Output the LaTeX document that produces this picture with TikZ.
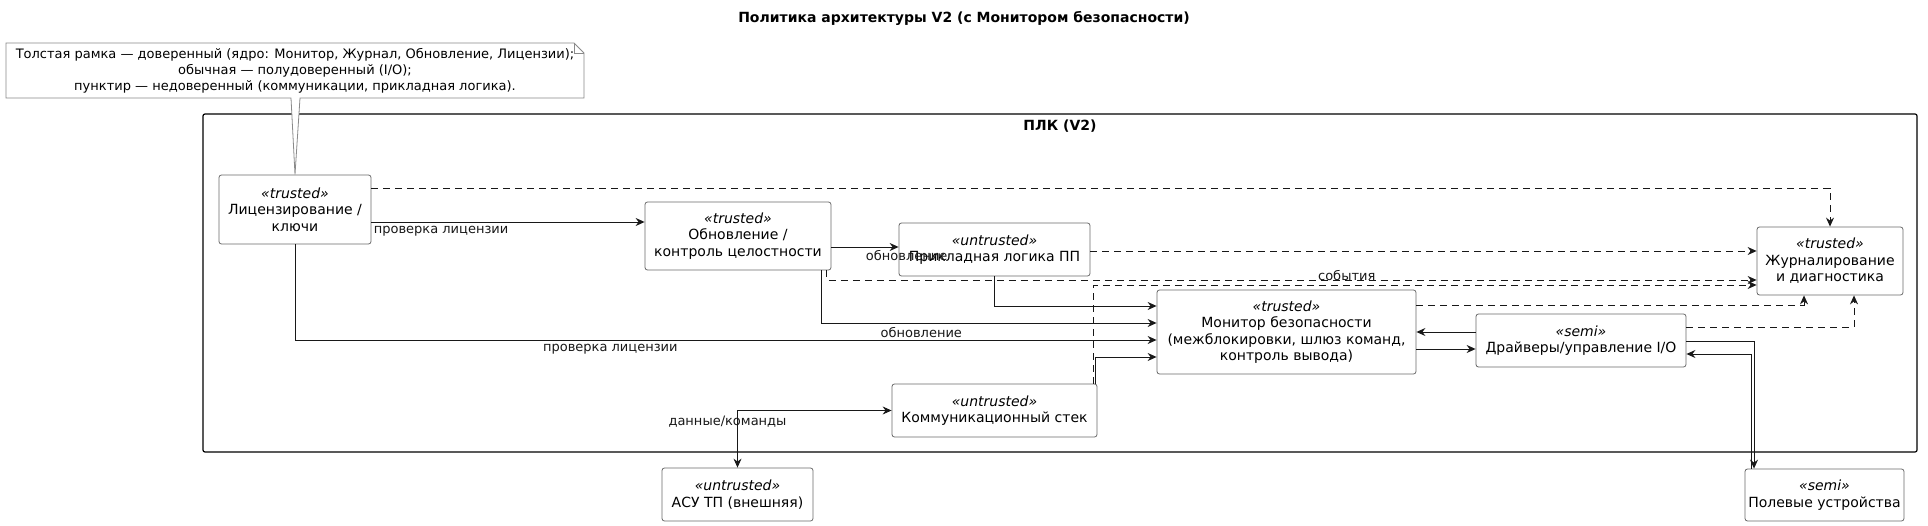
\documentclass[tikz,border=0pt]{standalone}
\usepackage{fontspec}
\setmainfont{DejaVu Sans}
\usepackage{tikz}
\usetikzlibrary{arrows.meta}

\definecolor{boxline}{HTML}{6A6A6A}
\definecolor{noteline}{HTML}{8A8A8A}
\definecolor{wire}{HTML}{181818}

\newcommand{\strtype}[1]{\textit{«#1»}\\}

\tikzset{
    uml/.tip={Stealth[length=9pt,width=8pt,inset=3pt]},
    comp/.style={draw=boxline, line width=0.8pt, rounded corners=2.5pt, fill=white,
        align=center, inner sep=0pt, font=\fontsize{14}{16.5}\selectfont},
    flow/.style={draw=wire, line width=0.9pt, -uml},
    dep/.style={flow, dash pattern=on 7pt off 5pt},
    lbl/.style={font=\fontsize{13}{15}\selectfont, inner sep=0pt, text=wire}
}

\begin{document}
\begin{tikzpicture}[x=1pt, y=-1pt]
    \path[fill=white, use as bounding box] (0,0) rectangle (1928,526);

    % Title
    \node[font=\bfseries\fontsize{14}{16}\selectfont] (title) at (964,18)
        {Политика архитектуры V2 (с Монитором безопасности)};

    % PLC frame
    \draw[line width=1.2pt, rounded corners=2pt] (203,114) rectangle (1917,452);
    \node[font=\bfseries\fontsize{14}{16}\selectfont] (plc) at (1060,126) {ПЛК (V2)};

    % Components inside the PLC
    \node[comp, minimum width=152, minimum height=69] (lic) at (295,209.5)
        {\strtype{trusted}Лицензирование /\\ключи};
    \node[comp, minimum width=186, minimum height=68] (upd) at (738,236)
        {\strtype{trusted}Обновление /\\контроль целостности};
    \node[comp, minimum width=191, minimum height=53] (app) at (994.5,249.5)
        {\strtype{untrusted}Прикладная логика ПП};
    \node[comp, minimum width=146, minimum height=68] (log) at (1830,261)
        {\strtype{trusted}Журналирование\\и диагностика};
    \node[comp, minimum width=259, minimum height=84] (mon) at (1286.5,332)
        {\strtype{trusted}Монитор безопасности\\(межблокировки, шлюз команд,\\контроль вывода)};
    \node[comp, minimum width=210, minimum height=53] (drv) at (1581,340.5)
        {\strtype{semi}Драйверы/управление I/O};
    \node[comp, minimum width=205, minimum height=53] (comm) at (994.5,410.5)
        {\strtype{untrusted}Коммуникационный стек};

    % Outside the PLC
    \node[comp, minimum width=151, minimum height=53] (acs) at (737.5,494.5)
        {\strtype{untrusted}АСУ ТП (внешняя)};
    \node[comp, minimum width=159, minimum height=52] (field) at (1824.5,495)
        {\strtype{semi}Полевые устройства};

    % Note with pointer
    \draw[noteline, fill=white, line width=0.8pt] (6,43) -- (574,43) -- (584,53) -- (584,98)
        -- (300,98) -- (lic.north) -- (291,98) -- (6,98) -- cycle;
    \draw[noteline, line width=0.8pt] (574,43) -- (574,53) -- (584,53);
    \node[align=center, font=\fontsize{13}{16}\selectfont, inner sep=0pt] (note) at (295,71)
        {Толстая рамка — доверенный (ядро: Монитор, Журнал, Обновление, Лицензии);\\
         обычная — полудоверенный (I/O);\\
         пунктир — недоверенный (коммуникации, прикладная логика).};

    % Licensing
    \draw[flow] ([yshift=-12.5pt]lic.east) -- ([yshift=14pt]upd.west)
        node[lbl, pos=0, anchor=north west, xshift=2pt, yshift=-4pt] (lblLicUpd) {проверка лицензии};
    \draw[flow] (lic.south) |- ([yshift=-8pt]mon.west)
        node[lbl, pos=0.683, below=4pt] (lblLicMon) {проверка лицензии};
    \draw[dep] ([yshift=21.5pt]lic.east) -| (log.north);

    % Update / integrity
    \draw[flow] ([yshift=-11pt]upd.east) -- ([yshift=2.5pt]app.west)
        node[lbl, pos=1, anchor=north, xshift=8pt, yshift=-3pt] (lblUpdApp) {обновление};
    \draw[flow] ([xshift=-10pt]upd.south east) |- ([yshift=9pt]mon.west)
        node[lbl, pos=0.649, below=4pt] (lblUpdMon) {обновление};
    \draw[dep] ([xshift=-5pt]upd.south east) |- ([yshift=-19pt]log.west);

    % Application logic
    \draw[flow] (app.south) |- ([yshift=26pt]mon.west);
    \draw[dep] ([yshift=-1.5pt]app.east) -- ([yshift=10pt]log.west);

    % Communication stack
    \draw[flow] ([xshift=-2pt]comm.north east) |- ([yshift=-25pt]mon.west);
    \draw[dep] ([xshift=-4pt]comm.north east) |- ([yshift=-24pt]log.west)
        node[lbl, pos=0.691, above=4pt] (lblEvents) {события};
    \draw[flow, uml-uml] (acs.north) |- (comm.west)
        node[lbl, pos=0.5, below=5pt, xshift=-10pt] (lblData) {данные/команды};

    % Monitor and drivers
    \draw[dep] ([yshift=27pt]mon.east) -| ([xshift=-26pt]log.south);
    \draw[dep] ([yshift=13.5pt]drv.east) -| ([xshift=24pt]log.south);
    \draw[flow] ([yshift=8.5pt]drv.west) -- (mon.east);
    \draw[flow] ([yshift=-17pt]mon.east) -- ([yshift=-8.5pt]drv.west);

    % Field devices
    \draw[flow] ([yshift=-0.5pt]drv.east) -| ([xshift=-70.5pt]field.north);
    \draw[flow] ([xshift=-73.5pt]field.north) |- ([yshift=-13.5pt]drv.east);
\end{tikzpicture}
\end{document}
